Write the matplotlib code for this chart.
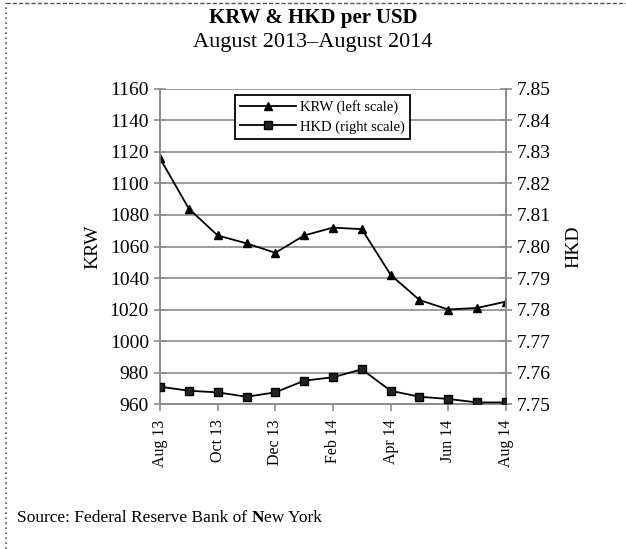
import matplotlib
matplotlib.use("Agg")
import matplotlib.pyplot as plt
from matplotlib.lines import Line2D

plt.rcParams["font.family"] = ["Liberation Serif", "DejaVu Serif"]

months = ["Aug 13", "Sep 13", "Oct 13", "Nov 13", "Dec 13", "Jan 14", "Feb 14",
          "Mar 14", "Apr 14", "May 14", "Jun 14", "Jul 14", "Aug 14"]
krw = [1116, 1084, 1067, 1062, 1056, 1067, 1072, 1071, 1042, 1026, 1020, 1021, 1025]
hkd = [7.7555, 7.7542, 7.7537, 7.7523, 7.7537, 7.7574, 7.7585, 7.7610,
       7.7542, 7.7523, 7.7516, 7.7505, 7.7505]
left_ticks = list(range(960, 1161, 20))
right_ticks = [7.75, 7.76, 7.77, 7.78, 7.79, 7.80, 7.81, 7.82, 7.83, 7.84, 7.85]

grey = "#8c8c8c"

fig = plt.figure(figsize=(6.26, 5.49), dpi=100)
ax = fig.add_axes([0.2556, 0.2641, 0.8083 - 0.2556, 0.8379 - 0.2641])
ax2 = ax.twinx()

x = list(range(len(months)))
ax.plot(x, krw, color="black", lw=1.3, marker="^", ms=6, zorder=5)
ax2.plot(x, hkd, color="black", lw=1.3, marker="s", ms=6,
         markerfacecolor="#222222", zorder=5)

ax.set_xlim(0, 12)
ax.set_ylim(960, 1160)
ax2.set_ylim(7.75, 7.85)
ax.set_yticks(left_ticks)
ax.set_yticklabels([str(v) for v in left_ticks], fontsize=14)
ax2.set_yticks(right_ticks)
ax2.set_yticklabels(["%.2f" % v for v in right_ticks], fontsize=14)
ax.set_xticks(x[::2])
ax.set_xticklabels(months[::2], rotation=90, fontsize=11.5)

ax.grid(axis="y", color=grey, lw=1.2)
ax.set_axisbelow(True)
for a in (ax, ax2):
    for s in a.spines.values():
        s.set_color(grey)
        s.set_linewidth(1.2)
    a.spines["top"].set_visible(False)
ax.tick_params(axis="y", direction="inout", length=8, color=grey, width=1.2, pad=4)
ax2.tick_params(axis="y", direction="inout", length=8, color=grey, width=1.2, pad=4)
ax.tick_params(axis="x", direction="out", length=5, color=grey, width=1.2, pad=6)

ax.set_ylabel("KRW", fontsize=14, labelpad=6)
ax2.set_ylabel("HKD", fontsize=14, labelpad=10)

handles = [Line2D([], [], color="black", marker="^", ms=6, lw=1.3),
           Line2D([], [], color="black", marker="s", ms=6, lw=1.3,
                  markerfacecolor="#222222")]
leg = ax.legend(handles, ["KRW (left scale)", "HKD (right scale)"],
                loc="upper center", bbox_to_anchor=(0.47, 0.98), fontsize=10.5,
                fancybox=False, framealpha=1, edgecolor="black",
                handlelength=3.8, borderpad=0.35, labelspacing=0.4,
                handletextpad=0.3, borderaxespad=0)
leg.get_frame().set_linewidth(1.3)

fig.text(0.5, 0.967, "KRW & HKD per USD", ha="center", va="center",
         fontsize=15, fontweight="bold")
fig.text(0.5, 0.923, "August 2013\u2013August 2014", ha="center", va="center",
         fontsize=16)

# source line, with a bold "N" as in the original
fig.canvas.draw()
renderer = fig.canvas.get_renderer()
sx, sy = 0.027, 0.056
pieces = [("Source: Federal Reserve Bank of ", "normal"), ("N", "bold"), ("ew York", "normal")]
for txt, wt in pieces:
    t = fig.text(sx, sy, txt, ha="left", va="center", fontsize=12.5, fontweight=wt)
    bb = t.get_window_extent(renderer=renderer)
    sx += bb.width / fig.bbox.width

# dotted frame on left and top
fig.add_artist(Line2D([0.01, 0.01], [0.0, 0.995], transform=fig.transFigure,
                      color="#555555", lw=1.2, linestyle=(0, (1, 2))))
fig.add_artist(Line2D([0.01, 1.0], [0.995, 0.995], transform=fig.transFigure,
                      color="#555555", lw=1.0, linestyle=(0, (3, 1.5))))

fig.savefig("out.png", dpi=100)
